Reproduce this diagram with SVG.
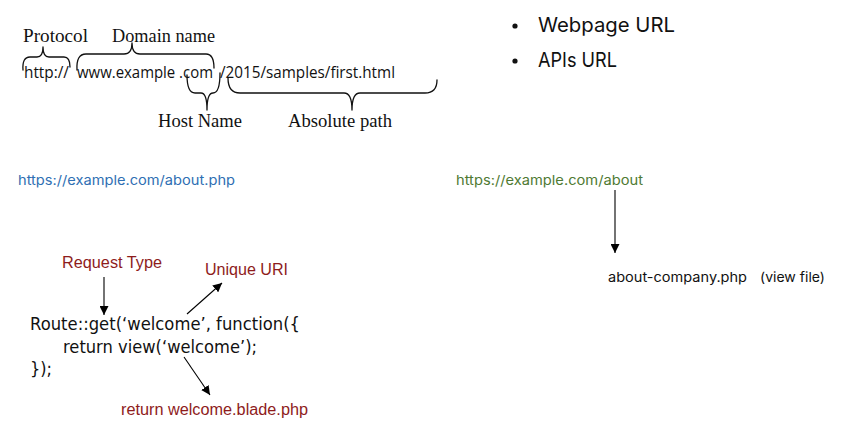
<svg xmlns="http://www.w3.org/2000/svg" width="855" height="427" viewBox="0 0 855 427">
<defs>
<marker id="ah" viewBox="0 0 10 10" refX="10" refY="5" markerWidth="9" markerHeight="9" markerUnits="userSpaceOnUse" orient="auto">
<path d="M0,0 L10,5 L0,10 z" fill="#000"/>
</marker>
<style>
.serif{font-family:"Liberation Serif","Times New Roman",serif;font-size:18.5px;fill:#111}
.url{font-family:"Open Sans","DejaVu Sans",sans-serif;font-size:16px;fill:#111}
.bul{font-family:"Inter","Open Sans",sans-serif;font-size:20px;fill:#111}
.link{font-family:"Inter","Open Sans",sans-serif;font-size:13.5px}
.code{font-family:"DejaVu Sans","Liberation Sans",sans-serif;font-size:17px;fill:#111}
.red{font-family:"Liberation Sans",Arial,sans-serif;font-size:16px;fill:#8e1c1c}
.brace{fill:none;stroke:#111;stroke-width:1.3;stroke-linecap:round;stroke-linejoin:round}
.conn{fill:none;stroke:#000;stroke-width:1.1;marker-end:url(#ah)}
</style>
</defs>
<rect width="855" height="427" fill="#fff"/>

<g id="url-anatomy">
<text class="serif" x="23" y="42" textLength="65" lengthAdjust="spacingAndGlyphs">Protocol</text>
<text class="serif" x="112" y="42" textLength="103" lengthAdjust="spacingAndGlyphs">Domain name</text>
<text class="url" x="24" y="78" textLength="45" lengthAdjust="spacingAndGlyphs">http://</text>
<text class="url" x="77" y="78" textLength="136" lengthAdjust="spacingAndGlyphs">www.example .com</text>
<text class="url" x="220" y="78" textLength="175" lengthAdjust="spacingAndGlyphs">/2015/samples/first.html</text>
<text class="serif" x="158" y="127" textLength="84" lengthAdjust="spacingAndGlyphs">Host Name</text>
<text class="serif" x="288" y="127" textLength="104" lengthAdjust="spacingAndGlyphs">Absolute path</text>
<path class="brace" d="M23,70 Q22,57 30,57 L37,57 Q43,57 43,47 Q43,57 49,57 L64,57 Q70,57 70,67"/>
<path class="brace" d="M77,70 Q76,54 86,54 L124,54 Q132,54 132,43 Q132,54 140,54 L206,54 Q214,54 214,68"/>
<path class="brace" d="M187,75 Q187,93 195,93 L201,93 Q207,93 207,110 Q207,93 213,93 Q220,93 220,73"/>
<path class="brace" d="M228,78 Q228,93 240,93 L344,93 Q352,93 352,110 Q352,93 360,93 L425,93 Q437,93 437,80"/>
</g>

<g id="bullets">
<circle cx="515" cy="26" r="2.6" fill="#111"/>
<text class="bul" x="538" y="32" textLength="137" lengthAdjust="spacingAndGlyphs">Webpage URL</text>
<circle cx="515" cy="61" r="2.6" fill="#111"/>
<text class="bul" x="538" y="67" textLength="79" lengthAdjust="spacingAndGlyphs">APIs URL</text>
</g>

<g id="url-php">
<text class="link" x="18" y="185" fill="#2f6fb3" textLength="217" lengthAdjust="spacingAndGlyphs">https://example.com/about.php</text>
</g>
<g id="url-about">
<text class="link" x="456" y="185" fill="#4f7a33" textLength="187" lengthAdjust="spacingAndGlyphs">https://example.com/about</text>
</g>
<g id="view-file">
<text class="link" x="608" y="282" fill="#111" textLength="139" lengthAdjust="spacingAndGlyphs">about-company.php</text>
<text class="link" x="760" y="282" fill="#111" textLength="65" lengthAdjust="spacingAndGlyphs">(view file)</text>
</g>

<g id="route-code">
<text class="code" x="30" y="330" textLength="270" lengthAdjust="spacingAndGlyphs">Route::get(‘welcome’, function({</text>
<text class="code" x="63" y="353" textLength="194" lengthAdjust="spacingAndGlyphs">return view(‘welcome’);</text>
<text class="code" x="30" y="375" textLength="22" lengthAdjust="spacingAndGlyphs">});</text>
</g>
<g id="request-type">
<text class="red" x="62" y="268" textLength="100" lengthAdjust="spacingAndGlyphs">Request Type</text>
</g>
<g id="unique-uri">
<text class="red" x="205" y="275" textLength="83" lengthAdjust="spacingAndGlyphs">Unique URI</text>
</g>
<g id="return-blade">
<text class="red" x="121" y="415" textLength="187" lengthAdjust="spacingAndGlyphs">return welcome.blade.php</text>
</g>

<g id="connectors">
<line class="conn" x1="615" y1="190" x2="615" y2="253"/>
<line class="conn" x1="104" y1="277" x2="104" y2="315"/>
<line class="conn" x1="187" y1="314" x2="222" y2="283"/>
<line class="conn" x1="184" y1="357" x2="210" y2="395"/>
</g>
</svg>
